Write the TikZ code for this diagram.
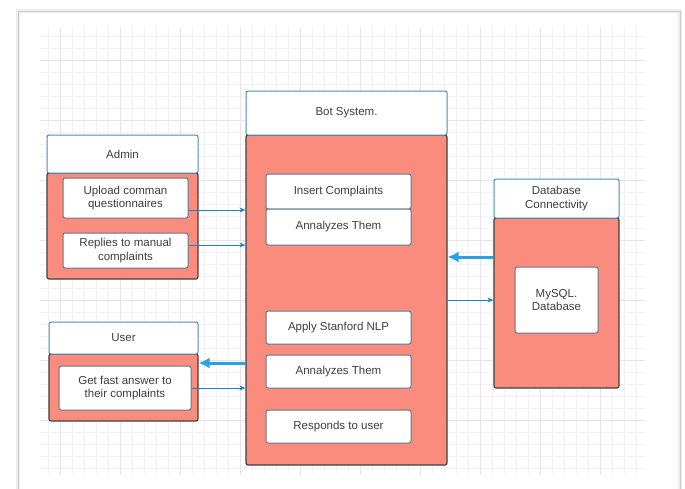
\documentclass[tikz,border=0pt]{standalone}
\usepackage{fontspec}
\setmainfont{Liberation Sans}
\usetikzlibrary{arrows.meta,positioning,calc}
\definecolor{salmon}{RGB}{250,140,126}
\definecolor{hdrblue}{RGB}{72,140,180}
\definecolor{boxgrey}{RGB}{95,118,140}
\definecolor{txtgrey}{RGB}{62,62,62}
\definecolor{arrblue}{RGB}{34,130,190}
\definecolor{arrlight}{RGB}{40,162,226}

\begin{document}
\begin{tikzpicture}[
    x=1pt, y=-1pt,
    font=\fontsize{11.5}{13.5}\selectfont,
    header/.style={rectangle, draw=hdrblue, fill=white, rounded corners=2pt, line width=1pt, text=txtgrey, align=center},
    body/.style={rectangle, draw=black!75, fill=salmon, rounded corners=2pt, line width=1.2pt},
    item/.style={rectangle, draw=boxgrey, fill=white, rounded corners=2pt, line width=1pt, text=txtgrey, align=center, inner sep=1pt},
    thinarrow/.style={draw=arrblue, line width=0.8pt, -{Stealth[length=6pt,width=5pt]}},
    thickarrow/.style={draw=arrlight, line width=3pt, -{Latex[length=11pt,width=11pt]}}
]
\useasboundingbox (0,0) rectangle (685,488);
\fill[white] (0,0) rectangle (685,488);
\draw[gray!15, line width=4pt] (18,11) rectangle (680,500);
\draw[gray!40, line width=1pt] (18,11) rectangle (680,500);
\draw[gray!10, step=12pt] (40,27) grid (645,475);
\draw[gray!20, step=60pt] (40,27) grid (645,475);

\node[body, minimum width=201pt, minimum height=330pt] (botbody) at (346.5,300) {};
\node[header, minimum width=201pt, minimum height=44pt] (bothead) at (346.5,113) {Bot System.};
\node[item, minimum width=145pt, minimum height=35pt] (insert) at (338.5,191.5) {Insert Complaints};
\node[item, minimum width=145pt, minimum height=36pt] (analyze1) at (338.5,227) {Annalyzes Them};
\node[item, minimum width=145pt, minimum height=33pt] (apply) at (338.5,327.5) {Apply Stanford NLP};
\node[item, minimum width=145pt, minimum height=33pt] (analyze2) at (338.5,371.5) {Annalyzes Them};
\node[item, minimum width=145pt, minimum height=33pt] (responds) at (338.5,426.5) {Responds to user};

\node[body, minimum width=151pt, minimum height=106pt] (adminbody) at (122.5,226) {};
\node[header, minimum width=151pt, minimum height=38pt] (adminhead) at (122.5,154) {Admin};
\node[item, minimum width=125pt, minimum height=40pt] (upload) at (125.5,198) {Upload comman\\questionnaires};
\node[item, minimum width=125pt, minimum height=35pt] (replies) at (125.5,250.5) {Replies to manual\\complaints};

\node[body, minimum width=149pt, minimum height=67pt] (userbody) at (123.5,387.5) {};
\node[header, minimum width=149pt, minimum height=32pt] (userhead) at (123.5,338) {User};
\node[item, minimum width=132pt, minimum height=44pt] (fast) at (125,388) {Get fast answer to\\their complaints};

\node[body, minimum width=125pt, minimum height=170pt] (dbbody) at (556.5,303) {};
\node[header, minimum width=125pt, minimum height=39pt] (dbhead) at (556.5,198.5) {Database\\Connectivity};
\node[item, minimum width=83pt, minimum height=66pt] (mysql) at (556.5,300) {MySQL.\\Database};

\coordinate (upout) at ([yshift=-12pt]upload.east);
\coordinate (repout) at ([yshift=5.5pt]replies.east);
\coordinate (dbout) at ([yshift=46pt]dbbody.west);
\coordinate (userin) at ([yshift=24.5pt]userbody.east);
\draw[thinarrow] (upout) -- (upout -| botbody.west);
\draw[thinarrow] (repout) -- (repout -| botbody.west);
\draw[thickarrow] (dbout) -- (dbout -| botbody.east);
\draw[thinarrow] (mysql -| botbody.east) -- (mysql -| dbbody.west);
\draw[thickarrow] (userin -| botbody.west) -- (userin);
\draw[thinarrow] (fast.east) -- (fast.east -| botbody.west);
\end{tikzpicture}
\end{document}
